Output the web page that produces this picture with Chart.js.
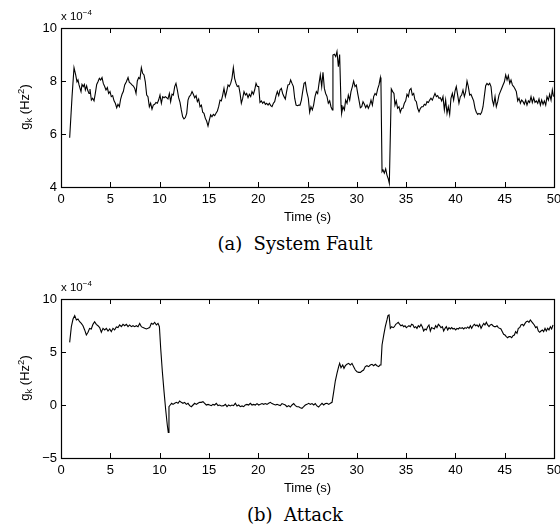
<!DOCTYPE html>
<html>
<head>
<meta charset="utf-8">
<title>g_k: System Fault vs Attack</title>
<script src="https://cdn.jsdelivr.net/npm/chart.js@4.4.1/dist/chart.umd.min.js"></script>
<style>
    html, body { margin: 0; padding: 0; background: #fff; overflow: hidden; }
    body { width: 560px; height: 532px; position: relative; font-family: 'Liberation Sans', Arial, sans-serif; }
    .plot { position: absolute; left: 0; width: 572px; height: 228px; }
    .mult { position: absolute; left: 61px; font-size: 11.5px; line-height: 13px; color: #000; }
    .mult .sup { position: relative; top: -5px; font-size: 8px; }
    .ylab { position: absolute; width: 120px; height: 16px; line-height: 16px; text-align: center;
            font-size: 13px; transform: rotate(-90deg); color: #000; }
    .ylab .sub { position: relative; top: 3px; font-size: 9.5px; }
    .ylab .sup { position: relative; top: -5px; font-size: 9.5px; }
    .caption { position: absolute; left: 0; width: 590px; text-align: center;
               font-family: 'DejaVu Serif', serif; font-size: 18px; line-height: 20px; color: #000; }
</style>
</head>
<body>

<div class="plot" style="top:0"><canvas id="faultChart"></canvas></div>
<div class="mult" style="top:10px">x 10<span class="sup">&minus;4</span></div>
<div class="ylab" style="left:-35px; top:99px">g<span class="sub">k</span> (Hz<span class="sup">2</span>)</div>
<div class="caption" style="top:234px">(a)&nbsp;&nbsp;System Fault</div>

<div class="plot" style="top:271px"><canvas id="attackChart"></canvas></div>
<div class="mult" style="top:281px">x 10<span class="sup">&minus;4</span></div>
<div class="ylab" style="left:-35px; top:370px">g<span class="sub">k</span> (Hz<span class="sup">2</span>)</div>
<div class="caption" style="top:505px">(b)&nbsp;&nbsp;Attack</div>

<script>
// Data (g_k in units of 1e-4 Hz^2, time in s)
const timeFault = [
    0.88, 1.12, 1.32, 1.49, 1.62, 1.72, 1.83, 1.93, 2.03, 2.13, 2.26, 2.37, 2.47, 2.6, 2.7, 2.84, 2.94,
    3.08, 3.21, 3.35, 3.48, 3.62, 3.75, 3.89, 4.02, 4.16, 4.29, 4.43, 4.56, 4.7, 4.83, 4.97,
    5.1, 5.24, 5.38, 5.51, 5.65, 5.78, 5.92, 6.05, 6.19, 6.32, 6.46, 6.63, 6.8, 6.93,
    7.07, 7.2, 7.34, 7.48, 7.61, 7.74, 7.88, 8.01, 8.15, 8.28, 8.42, 8.55, 8.69, 8.82, 8.96,
    9.09, 9.23, 9.36, 9.5, 9.63, 9.77, 9.9, 10.04, 10.18, 10.31, 10.45, 10.58, 10.72, 10.85, 10.99,
    11.12, 11.26, 11.39, 11.53, 11.66, 11.8, 11.93, 12.07, 12.2, 12.34, 12.47, 12.61, 12.75, 12.88,
    13.01, 13.15, 13.29, 13.42, 13.56, 13.7, 13.83, 13.96, 14.1, 14.24, 14.37, 14.5, 14.64, 14.77, 14.91,
    15.05, 15.18, 15.31, 15.45, 15.59, 15.72, 15.86, 15.99, 16.13, 16.26, 16.4, 16.53, 16.67, 16.8, 16.94,
    17.07, 17.21, 17.34, 17.48, 17.61, 17.75, 17.88, 18.02, 18.16, 18.29, 18.43, 18.56, 18.7, 18.83, 18.97,
    19.1, 19.24, 19.37, 19.51, 19.64, 19.78, 19.91, 20.05, 20.18, 20.32, 20.45, 20.59, 20.73, 20.86,
    21.0, 21.13, 21.27, 21.4, 21.54, 21.67, 21.81, 21.94, 22.08, 22.21, 22.35, 22.48, 22.62, 22.75, 22.89,
    23.02, 23.16, 23.29, 23.43, 23.57, 23.7, 23.84, 23.97, 24.11, 24.24, 24.38, 24.51, 24.65, 24.78, 24.92,
    25.08, 25.22, 25.35, 25.49, 25.62, 25.76, 25.9, 26.03, 26.17, 26.3, 26.44, 26.57, 26.71, 26.84, 26.98,
    27.11, 27.25, 27.38, 27.52, 27.58, 27.72, 27.86, 27.99, 28.13, 28.26, 28.4, 28.46, 28.6, 28.74, 28.87,
    29.01, 29.14, 29.28, 29.41, 29.55, 29.68, 29.82, 29.95, 30.09, 30.22, 30.36, 30.5, 30.63, 30.77, 30.9,
    31.04, 31.17, 31.31, 31.44, 31.58, 31.71, 31.85, 31.98, 32.12, 32.25, 32.39, 32.45, 32.56, 32.66, 32.79,
    32.93, 33.06, 33.2, 33.3, 33.5, 33.64, 33.77, 33.87, 34.0, 34.14, 34.28, 34.41, 34.55, 34.68, 34.82, 34.96,
    35.09, 35.23, 35.36, 35.5, 35.63, 35.77, 35.9, 36.04, 36.17, 36.31, 36.45, 36.58, 36.72, 36.85, 36.99,
    37.12, 37.26, 37.39, 37.52, 37.66, 37.8, 37.93, 38.07, 38.2, 38.34, 38.47, 38.61, 38.74, 38.88,
    39.01, 39.15, 39.28, 39.42, 39.55, 39.69, 39.82, 39.96, 40.09, 40.23, 40.36, 40.5, 40.63, 40.77, 40.91,
    41.04, 41.18, 41.31, 41.45, 41.58, 41.72, 41.85, 41.99, 42.12, 42.26, 42.39, 42.53, 42.66, 42.8, 42.93,
    43.07, 43.2, 43.34, 43.48, 43.61, 43.75, 43.88, 44.02, 44.15, 44.29, 44.42, 44.56, 44.69, 44.83, 44.97,
    45.1, 45.24, 45.37, 45.51, 45.64, 45.78, 45.91, 46.05, 46.18, 46.32, 46.45, 46.59, 46.72, 46.86, 46.99,
    47.13, 47.26, 47.4, 47.53, 47.67, 47.8, 47.94, 48.07, 48.21, 48.35, 48.48, 48.62, 48.75, 48.89,
    49.02, 49.16, 49.29, 49.43, 49.56, 49.7, 49.83, 49.95
];
const gFault = [
    5.86, 7.41, 8.5, 8.23, 7.97, 8.04, 7.85, 7.72, 7.6, 7.87, 7.79, 7.87, 7.66, 7.82, 7.66, 7.53, 7.7,
    7.28, 7.35, 7.25, 7.53, 7.87, 7.97, 8.1, 8.04, 8.13, 7.91, 7.79, 7.66, 7.75, 7.53, 7.6,
    7.41, 7.45, 7.25, 7.16, 6.99, 7.12, 7.03, 7.32, 7.5, 7.6, 7.85, 7.97, 8.13, 7.95,
    7.91, 7.85, 7.81, 7.72, 7.53, 8.0, 8.13, 8.08, 8.5, 8.29, 8.23, 7.97, 7.47, 7.41, 7.03,
    7.16, 6.94, 7.09, 7.12, 7.19, 7.16, 7.28, 7.47, 7.16, 7.41, 7.37, 7.41, 7.37, 7.32, 7.53,
    7.22, 7.5, 7.47, 7.79, 7.91, 7.66, 7.37, 7.19, 6.91, 6.65, 6.57, 6.62, 6.78, 7.28,
    7.41, 7.47, 7.6, 7.5, 7.37, 7.45, 7.22, 7.32, 7.03, 7.09, 6.82, 6.78, 6.59, 6.49, 6.3,
    6.53, 6.72, 6.65, 6.74, 6.69, 6.78, 6.87, 7.03, 7.28, 7.25, 7.47, 7.72, 7.41, 7.6, 7.85,
    7.79, 7.91, 8.1, 8.5, 8.1, 7.91, 7.79, 7.82, 7.53, 7.16, 7.35, 7.6, 7.47, 7.53, 7.37,
    7.5, 7.41, 7.6, 7.5, 7.66, 7.91, 7.79, 7.79, 7.19, 7.25, 7.16, 7.22, 7.12, 7.16,
    7.09, 7.16, 7.07, 7.03, 7.16, 7.22, 7.45, 7.6, 7.45, 7.66, 7.72, 7.53, 7.41, 7.32, 7.62,
    7.85, 7.87, 8.04, 7.91, 7.79, 7.35, 7.09, 7.07, 7.09, 7.09, 7.28, 7.6, 7.91, 7.95, 7.6,
    7.35, 6.82, 7.03, 6.91, 7.09, 7.41, 7.6, 7.53, 7.91, 8.23, 7.79, 8.33, 7.72, 7.53, 7.41,
    7.16, 7.25, 7.03, 6.91, 8.98, 9.01, 8.92, 9.11, 8.54, 9.0, 7.09, 6.78, 7.03, 6.91, 7.28,
    7.16, 7.47, 7.28, 7.6, 7.79, 8.0, 7.79, 7.85, 7.53, 7.28, 6.99, 7.03, 7.22, 7.12, 6.99,
    7.09, 6.97, 7.09, 7.28, 7.09, 7.41, 7.53, 7.47, 7.7, 7.85, 8.13, 7.91, 4.58, 4.64, 4.52,
    4.68, 4.45, 4.3, 4.14, 7.7, 7.6, 7.53, 7.09, 7.25, 6.97, 7.03, 6.82, 6.97, 6.97, 7.16, 7.25,
    7.5, 7.41, 7.66, 7.72, 7.47, 7.53, 7.28, 7.22, 6.97, 6.84, 6.97, 7.03, 7.03, 7.12, 7.09,
    7.22, 7.19, 7.28, 7.35, 7.28, 7.41, 7.53, 7.41, 7.45, 7.35, 7.37, 7.25, 7.41, 6.91,
    7.28, 6.78, 7.03, 6.74, 7.35, 7.53, 7.28, 7.62, 7.79, 7.47, 7.16, 7.41, 7.47, 7.66, 7.41,
    7.6, 8.0, 7.79, 7.47, 7.5, 7.37, 7.25, 6.97, 6.82, 6.74, 6.78, 6.74, 6.82, 7.03, 7.41,
    7.82, 7.91, 7.85, 7.91, 7.79, 7.28, 7.09, 7.41, 7.03, 7.22, 7.47, 7.6, 7.72, 7.85, 7.97,
    8.23, 8.04, 8.2, 7.91, 8.04, 7.85, 7.79, 7.7, 7.6, 7.25, 7.35, 7.16, 7.28, 7.22, 7.12,
    7.28, 7.09, 7.25, 7.19, 7.41, 7.19, 7.37, 7.19, 7.25, 7.16, 7.32, 7.09, 7.28, 7.12,
    7.25, 7.09, 7.41, 7.28, 7.5, 7.28, 7.66, 7.41
];

const timeAttack = [
    0.88, 1.05, 1.22, 1.39, 1.56, 1.72, 1.89, 2.06, 2.23, 2.4, 2.57, 2.74, 2.9, 3.07, 3.24, 3.41, 3.58,
    3.75, 3.92, 4.09, 4.26, 4.43, 4.6, 4.77, 4.94, 5.1, 5.27, 5.44, 5.61, 5.78, 5.95, 6.12, 6.29,
    6.46, 6.63, 6.8, 6.96, 7.13, 7.3, 7.47, 7.64, 7.81, 7.98, 8.15, 8.32, 8.49, 8.66, 8.82, 8.99,
    9.16, 9.33, 9.5, 9.67, 9.84, 9.98, 10.11, 10.28, 10.45, 10.62, 10.78, 10.88, 10.95, 11.08,
    11.22, 11.36, 11.53, 11.7, 11.87, 12.03, 12.2, 12.37, 12.54, 12.71, 12.88, 13.05, 13.22, 13.39,
    13.56, 13.73, 13.89, 14.06, 14.23, 14.4, 14.57, 14.74, 14.91, 15.08, 15.24, 15.41, 15.58, 15.75,
    15.92, 16.09, 16.26, 16.5, 16.67, 16.84, 17.0, 17.17, 17.34, 17.5, 17.68, 17.85, 18.02, 18.19,
    18.36, 18.53, 18.69, 18.86, 19.03, 19.2, 19.37, 19.54, 19.71, 19.88, 20.05, 20.22, 20.39, 20.55,
    20.72, 20.89, 21.06, 21.23, 21.4, 21.57, 21.74, 21.91, 22.07, 22.24, 22.41, 22.58, 22.75, 22.92,
    23.09, 23.26, 23.43, 23.6, 23.77, 23.94, 24.11, 24.27, 24.44, 24.61, 24.78, 24.95, 25.12, 25.29,
    25.46, 25.63, 25.79, 25.96, 26.13, 26.3, 26.47, 26.64, 26.81, 26.98, 27.15, 27.32, 27.49, 27.66,
    27.82, 27.99, 28.16, 28.26, 28.4, 28.57, 28.7, 28.84, 29.0, 29.18, 29.34, 29.51, 29.68, 29.85,
    30.02, 30.19, 30.36, 30.53, 30.69, 30.86, 31.03, 31.2, 31.37, 31.54, 31.71, 31.88, 32.05, 32.22,
    32.35, 32.45, 32.56, 32.73, 32.89, 33.06, 33.16, 33.27, 33.4, 33.54, 33.68, 33.81, 33.95, 34.08,
    34.2, 34.35, 34.48, 34.62, 34.75, 34.89, 35.02, 35.16, 35.29, 35.43, 35.56, 35.7, 35.83, 35.97,
    36.1, 36.24, 36.37, 36.51, 36.65, 36.78, 36.92, 37.05, 37.19, 37.32, 37.46, 37.59, 37.73, 37.86,
    38.0, 38.13, 38.27, 38.4, 38.54, 38.68, 38.81, 38.95, 39.08, 39.22, 39.35, 39.49, 39.62, 39.76,
    39.89, 40.03, 40.16, 40.3, 40.43, 40.57, 40.7, 40.84, 40.98, 41.11, 41.25, 41.38, 41.52, 41.65,
    41.79, 41.92, 42.06, 42.19, 42.33, 42.46, 42.6, 42.73, 42.87, 43.0, 43.14, 43.27, 43.41, 43.54,
    43.68, 43.81, 43.95, 44.08, 44.22, 44.35, 44.49, 44.62, 44.76, 44.89, 45.03, 45.16, 45.3, 45.43,
    45.57, 45.71, 45.84, 45.98, 46.11, 46.25, 46.38, 46.52, 46.65, 46.79, 46.92, 47.06, 47.19, 47.33,
    47.46, 47.6, 47.73, 47.87, 48.0, 48.14, 48.27, 48.41, 48.55, 48.68, 48.82, 48.95, 49.09, 49.22,
    49.36, 49.49, 49.63, 49.76, 49.9
];
const gAttack = [
    5.91, 7.39, 8.11, 8.43, 8.02, 8.11, 7.86, 7.7, 7.48, 7.08, 6.6, 6.86, 7.23, 7.17, 7.61, 7.86, 7.61,
    7.48, 7.3, 6.86, 7.23, 7.08, 7.23, 6.98, 7.17, 6.92, 7.23, 7.08, 7.36, 7.3, 7.55, 7.39, 7.61,
    7.48, 7.61, 7.39, 7.55, 7.39, 7.48, 7.39, 7.48, 7.39, 7.7, 7.39, 7.3, 7.23, 7.17, 7.23, 7.3,
    7.7, 7.61, 7.8, 7.55, 7.7, 7.39, 5.35, 3.14, 1.26, -0.47, -1.89, -2.58, -0.16, 0.0,
    0.16, 0.06, 0.16, 0.25, 0.16, 0.38, 0.25, 0.16, 0.25, 0.06, 0.16, -0.06, -0.16, 0.0,
    0.16, 0.06, 0.16, 0.25, 0.25, 0.31, 0.16, 0.0, 0.06, 0.0, -0.06, 0.06, 0.0, 0.16,
    -0.06, 0.0, -0.09, -0.06, 0.06, -0.16, 0.0, -0.09, 0.0, -0.06, 0.16, -0.09, 0.0, -0.16,
    -0.09, -0.16, 0.0, 0.06, 0.0, 0.16, 0.0, 0.06, 0.0, 0.13, 0.0, 0.06, 0.13, 0.06,
    0.13, 0.06, 0.16, 0.25, 0.13, 0.06, 0.0, 0.06, 0.0, -0.06, 0.13, 0.06, 0.0, -0.16,
    -0.06, -0.19, 0.0, 0.13, -0.06, -0.16, -0.16, -0.25, -0.31, -0.16, 0.0, 0.06, 0.16, 0.06,
    0.13, 0.0, 0.13, -0.09, -0.19, 0.0, 0.16, 0.0, 0.13, 0.16, 0.06, 0.16, 0.25, 1.26,
    2.26, 2.99, 3.62, 3.93, 3.52, 3.77, 3.46, 3.71, 3.84, 3.93, 3.77, 3.93, 3.62, 3.3,
    3.14, 3.08, 3.08, 3.21, 3.3, 3.62, 3.71, 3.62, 3.77, 3.84, 3.71, 3.84, 3.71, 3.62,
    3.77, 3.77, 5.66, 6.6, 7.39, 8.02, 8.43, 8.49, 7.23, 7.39, 7.3, 7.39, 7.61, 7.7,
    7.8, 7.61, 7.48, 7.55, 7.39, 7.48, 7.3, 7.39, 7.48, 7.39, 7.61, 7.55, 7.3, 7.39,
    7.23, 7.48, 7.36, 7.61, 7.36, 6.98, 7.17, 7.08, 7.39, 7.55, 6.98, 7.3, 7.23, 7.17,
    7.48, 7.3, 7.61, 7.48, 7.3, 7.39, 6.98, 7.23, 7.39, 7.08, 7.3, 7.17, 7.3, 7.17,
    7.23, 7.08, 7.23, 7.17, 7.3, 7.23, 7.3, 7.17, 7.3, 7.23, 7.36, 7.23, 7.48, 7.23,
    7.48, 7.61, 7.48, 7.55, 7.39, 7.61, 7.23, 7.48, 7.7, 7.55, 7.8, 7.55, 7.39, 7.55,
    7.61, 7.48, 7.39, 7.39, 7.48, 7.3, 7.23, 7.17, 6.92, 6.67, 6.6, 6.45, 6.35, 6.45,
    6.45, 6.35, 6.54, 6.6, 6.92, 6.76, 7.23, 7.3, 7.55, 7.61, 7.48, 7.7, 7.86, 7.92,
    7.8, 8.02, 7.86, 7.7, 7.55, 7.3, 7.39, 6.98, 6.86, 6.98, 7.08, 6.92, 7.23, 6.98,
    7.23, 7.08, 7.39, 7.17, 7.55
];

const xTicks = [0, 5, 10, 15, 20, 25, 30, 35, 40, 45, 50];
const yTicksFault = [4, 6, 8, 10];
const yTicksAttack = [-5, 0, 5, 10];

// Style
const TICK_FONT = { family: "'Liberation Sans', Arial, sans-serif", size: 13 };
const TITLE_FONT = { family: "'Liberation Sans', Arial, sans-serif", size: 13 };

// Inward MATLAB style ticks + box around the plot area
const boxTicks = {
    id: 'boxTicks',
    afterDraw(chart) {
        const { ctx, chartArea: a, scales: { x, y } } = chart;
        const len = 5;
        ctx.save();
        ctx.strokeStyle = '#000';
        ctx.lineWidth = 1;
        ctx.beginPath();
        x.ticks.forEach(t => {
            const px = Math.round(x.getPixelForValue(t.value)) + 0.5;
            ctx.moveTo(px, a.bottom); ctx.lineTo(px, a.bottom - len);
            ctx.moveTo(px, a.top); ctx.lineTo(px, a.top + len);
        });
        y.ticks.forEach(t => {
            const py = Math.round(y.getPixelForValue(t.value)) + 0.5;
            ctx.moveTo(a.left, py); ctx.lineTo(a.left + len, py);
            ctx.moveTo(a.right, py); ctx.lineTo(a.right - len, py);
        });
        ctx.stroke();
        ctx.lineWidth = 1.2;
        ctx.strokeRect(Math.round(a.left) + 0.5, Math.round(a.top) + 0.5,
            Math.round(a.width), Math.round(a.height));
        ctx.restore();
    }
};

function makeChart(canvasId, times, values, yTicks) {
    const points = times.map((t, i) => ({ x: t, y: values[i] }));
    return new Chart(document.getElementById(canvasId), {
        type: 'line',
        data: {
            datasets: [{
                data: points,
                borderColor: '#000',
                borderWidth: 1.1,
                pointRadius: 0,
                tension: 0,
                fill: false
            }]
        },
        options: {
            responsive: true,
            maintainAspectRatio: false,
            animation: false,
            layout: { padding: { top: 28, right: 18, bottom: 0, left: 0 } },
            plugins: { legend: { display: false }, tooltip: { enabled: false } },
            scales: {
                x: {
                    type: 'linear',
                    min: 0,
                    max: 50,
                    afterBuildTicks: s => { s.ticks = xTicks.map(v => ({ value: v })); },
                    afterFit: s => { s.height = 41; },
                    grid: { display: false, drawTicks: false },
                    border: { display: false },
                    ticks: { font: TICK_FONT, color: '#000', padding: 5, maxRotation: 0 },
                    title: {
                        display: true,
                        text: 'Time (s)',
                        font: TITLE_FONT,
                        color: '#000',
                        padding: { top: 0, bottom: 3 }
                    }
                },
                y: {
                    min: yTicks[0],
                    max: yTicks[yTicks.length - 1],
                    afterBuildTicks: s => { s.ticks = yTicks.map(v => ({ value: v })); },
                    afterFit: s => { s.width = 61; },
                    grid: { display: false, drawTicks: false },
                    border: { display: false },
                    ticks: {
                        font: TICK_FONT,
                        color: '#000',
                        padding: 4,
                        callback: v => (v < 0 ? '\u2212' + Math.abs(v) : String(v))
                    }
                }
            }
        },
        plugins: [boxTicks]
    });
}

function init() {
    makeChart('faultChart', timeFault, gFault, yTicksFault);
    makeChart('attackChart', timeAttack, gAttack, yTicksAttack);
}

window.addEventListener('DOMContentLoaded', init);
</script>
</body>
</html>
